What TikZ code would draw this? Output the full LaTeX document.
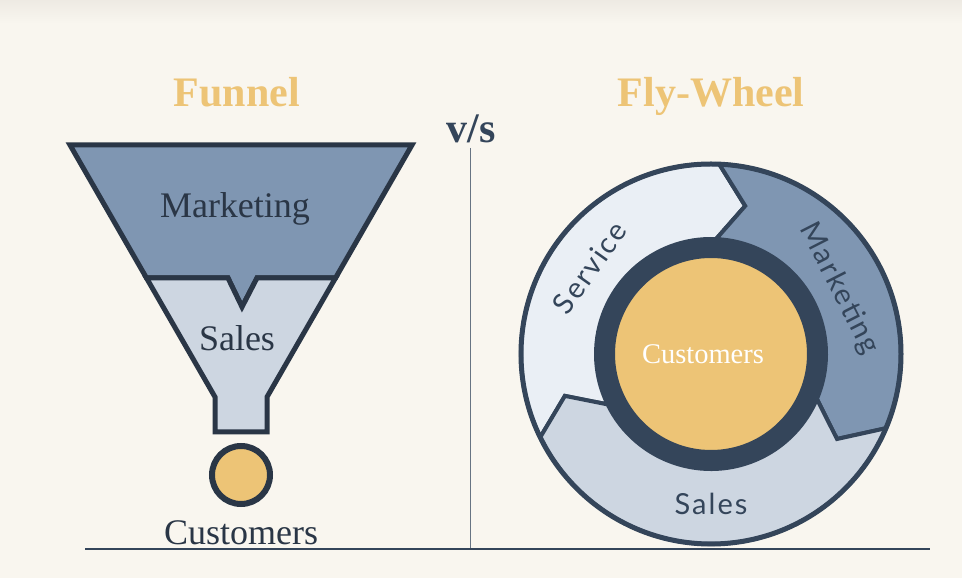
\documentclass[tikz,border=0pt]{standalone}
\usepackage{fontspec}
\setmainfont{Liberation Serif}
\newfontfamily\wheelfont{Lato}[LetterSpace=7]
\usetikzlibrary{positioning}
\definecolor{bgcream}{HTML}{F9F6EF}
\definecolor{topshade}{HTML}{EEEAE3}
\definecolor{navy}{HTML}{34455A}
\definecolor{darknavy}{HTML}{2A3646}
\definecolor{gold}{HTML}{EDC476}
\definecolor{steel}{HTML}{7F96B2}
\definecolor{pale}{HTML}{CDD6E1}
\definecolor{paler}{HTML}{EAEFF5}

\begin{document}
\begin{tikzpicture}[
        x=1pt, y=1pt,
        title/.style={font=\fontsize{42}{46}\selectfont\bfseries, text=gold, anchor=base, inner sep=0pt},
        lbl/.style={font=\fontsize{36}{40}\selectfont, text=darknavy, inner sep=0pt},
        wheellbl/.style={font=\wheelfont\fontsize{29}{32}\selectfont, text=navy, inner sep=0pt},
        part/.style={draw=darknavy, line width=5pt, line join=miter},
        segment/.style={draw=navy, line width=4pt, line join=miter}
    ]
        \fill[bgcream] (0,0) rectangle (962,578);
        \shade[top color=topshade, bottom color=bgcream] (0,554) rectangle (962,578);
        \useasboundingbox (0,0) rectangle (962,578);

        \node (funnel) [title] at (237,471) {Funnel};
        \node (flywheel) [title] at (711,471) {Fly-Wheel};
        \node (vs) [title, text=navy] at (471,435) {v/s};

        \coordinate (vtop) at (470,430);
        \coordinate (vbot) at (470,29);
        \coordinate (baseL) at (85,29);
        \coordinate (baseR) at (930,29);
        \draw[navy!75, line width=1pt] (vtop) -- (vbot);
        \draw[navy, line width=1.8pt] (baseL) -- (baseR);

        \path[part, fill=steel] (70,433) -- (412,433) -- (335.5,300) -- (257,300) -- (242,271)
            -- (228,300) -- (146.5,300) -- cycle;
        \path[part, fill=pale] (146.5,300) -- (228,300) -- (242,271) -- (257,300) -- (335.5,300)
            -- (267,181) -- (267,146) -- (215,146) -- (215,181) -- cycle;
        \node (mkt) [lbl] at (235,369) {Marketing};
        \node (sales) [lbl] at (237,240) {Sales};
        \node (dot) [circle, draw=darknavy, line width=6pt, fill=gold, minimum size=58pt, inner sep=0pt] at (241,103) {};
        \node (cust) [lbl, below=13pt of dot] {Customers};

        \begin{scope}[shift={(711,224)}]
            \path[segment, fill=paler] (206:190pt) arc[start angle=206, end angle=87.5, radius=190pt]
                -- (77:152pt) -- (87.5:115pt) arc[start angle=87.5, end angle=206, radius=115pt]
                -- (196:152pt) -- cycle;
            \path[segment, fill=steel] (87.5:190pt) arc[start angle=87.5, end angle=-23, radius=190pt]
                -- (-34:152pt) -- (-23:115pt) arc[start angle=-23, end angle=87.5, radius=115pt]
                -- (77:152pt) -- cycle;
            \path[segment, fill=pale] (-23:190pt) arc[start angle=-23, end angle=-154, radius=190pt]
                -- (-164:152pt) -- (-154:115pt) arc[start angle=-154, end angle=-23, radius=115pt]
                -- (-34:152pt) -- cycle;
            \draw[navy, line width=5pt] (0,0) circle[radius=190pt];
            \draw[navy, line width=20pt, fill=gold] (0,0) circle[radius=106pt];
            \node (hub) [font=\fontsize{28.5}{32}\selectfont, text=white, inner sep=0pt] at (-8,0) {Customers};
            \node (service) [wheellbl, rotate=54.6] at (144.6:149pt) {Service};
            \node (wmkt) [wheellbl, rotate=-63] at (27:144pt) {Marketing};
            \node (wsales) [wheellbl] at (-90:150pt) {Sales};
        \end{scope}
    \end{tikzpicture}
\end{document}
